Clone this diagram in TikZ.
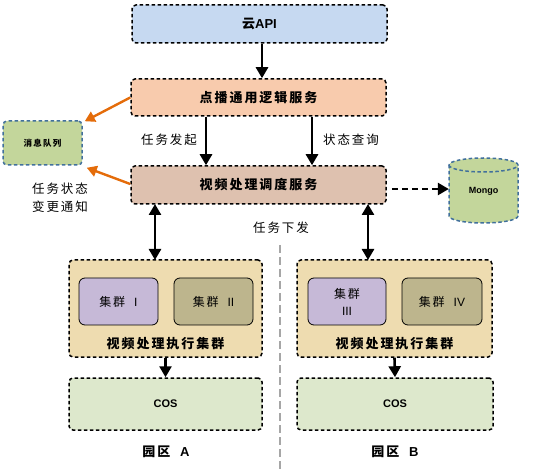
\documentclass[tikz,border=0pt]{standalone}
\usepackage{fontspec}
\setmainfont[LetterSpace=15]{Noto Sans CJK SC}
\newfontfamily\lat{Liberation Sans}
\usetikzlibrary{arrows.meta,shapes.geometric,calc}
\definecolor{apiblue}{HTML}{C6D9F1}
\definecolor{dbpink}{HTML}{F8CBAD}
\definecolor{schedc}{HTML}{DEC1AF}
\definecolor{mqgreen}{HTML}{C3D69B}
\definecolor{contc}{HTML}{EEDCB0}
\definecolor{lavc}{HTML}{C6B9D7}
\definecolor{olivec}{HTML}{BDB58D}
\definecolor{cosc}{HTML}{DDE8CC}
\definecolor{orangec}{HTML}{E46C0A}
\definecolor{bluebd}{HTML}{41709C}
\definecolor{greyc}{HTML}{A6A6A6}
\tikzset{
  dbox/.style={draw=black, line width=1.5pt, dash pattern=on 3.5pt off 2.5pt, rounded corners=4pt, inner sep=0pt, font=\fontsize{13}{15}\selectfont\bfseries},
  gbox/.style={draw=bluebd, line width=1.5pt, dash pattern=on 3.5pt off 2.5pt, rounded corners=4pt, fill=mqgreen, inner sep=0pt},
  ibox/.style={draw=black, line width=0.8pt, rounded corners=6pt, inner sep=0pt, font=\fontsize{12}{15}\selectfont, align=center},
  arr/.style={line width=2.6pt, -{Triangle[length=11pt,width=12pt]}},
  darr/.style={line width=2.6pt, {Triangle[length=11pt,width=12pt]}-{Triangle[length=11pt,width=12pt]}},
  oarr/.style={draw=orangec, line width=2.4pt, -{Triangle[length=10pt,width=11pt]}, orangec},
  lbl/.style={font=\fontsize{12.5}{18}\selectfont, align=center, inner sep=0pt},
}
\begin{document}
\begin{tikzpicture}[x=1pt,y=-1pt]
\useasboundingbox (0,0) rectangle (560,473);
% top boxes
\node[dbox, fill=apiblue, minimum width=255pt, minimum height=38pt] (api) at (259.5,24) {云{\lat API}};
\node[dbox, fill=dbpink, minimum width=255pt, minimum height=37pt] (dianbo) at (258.5,97.5) {点播通用逻辑服务};
\node[dbox, fill=schedc, minimum width=255pt, minimum height=38pt] (sched) at (258.5,185) {视频处理调度服务};
\node[gbox, minimum width=79pt, minimum height=44pt, font=\fontsize{8.5}{10}\selectfont\bfseries] (mq) at (42.5,143) {消息队列};
% mongo cylinder
\draw[draw=bluebd, line width=1.5pt, dash pattern=on 3.5pt off 2.5pt, fill=mqgreen]
  (449,165) -- (449,216) arc[start angle=180, end angle=360, x radius=34.5pt, y radius=7pt]
  -- (518,165) arc[start angle=0, end angle=180, x radius=34.5pt, y radius=7pt] -- cycle;
\draw[draw=bluebd, line width=1.5pt, dash pattern=on 3.5pt off 2.5pt]
  (449,165) arc[start angle=180, end angle=360, x radius=34.5pt, y radius=7pt];
\node[minimum width=69pt, minimum height=65pt, inner sep=0pt, font=\lat\fontsize{9}{10}\selectfont\bfseries] (mongo) at (483.5,191) {Mongo};
% containers
\node[dbox, fill=contc, minimum width=193pt, minimum height=97pt] (ca) at (165.5,308.5) {};
\node[dbox, fill=contc, minimum width=195pt, minimum height=97pt] (cb) at (394.5,308.5) {};
\node[ibox, fill=lavc, minimum width=79pt, minimum height=47pt] (c1) at (118.5,301.5) {集群\ \ {\lat I}};
\node[ibox, fill=olivec, minimum width=79pt, minimum height=47pt] (c2) at (213.5,301.5) {集群\ \ {\lat II}};
\node[ibox, fill=lavc, minimum width=78pt, minimum height=47pt, font=\fontsize{12}{17}\selectfont] (c3) at (347,301.5) {集群\\{\lat III}};
\node[ibox, fill=olivec, minimum width=80pt, minimum height=47pt] (c4) at (442,301.5) {集群\ \ {\lat IV}};
\node[font=\fontsize{13}{15}\selectfont\bfseries, inner sep=0pt] (la) at (165.5,344) {视频处理执行集群};
\node[font=\fontsize{13}{15}\selectfont\bfseries, inner sep=0pt] (lb) at (394.5,344) {视频处理执行集群};
% COS
\node[dbox, fill=cosc, minimum width=193pt, minimum height=52pt, font=\lat\fontsize{11}{13}\selectfont\bfseries] (cosa) at (165.5,404) {COS};
\node[dbox, fill=cosc, minimum width=196pt, minimum height=52pt, font=\lat\fontsize{11}{13}\selectfont\bfseries] (cosb) at (395,404) {COS};
\node[font=\fontsize{13}{15}\selectfont\bfseries, inner sep=0pt] (pa) at (166,452) {园区\ \ {\lat A}};
\node[font=\fontsize{13}{15}\selectfont\bfseries, inner sep=0pt] (pb) at (395,452) {园区\ \ {\lat B}};
% labels
\node[lbl] (l1) at (169,140) {任务发起};
\node[lbl] (l2) at (351,140) {状态查询};
\node[lbl] (l3) at (60,198) {任务状态\\变更通知};
\node[lbl] (l4) at (281,228) {任务下发};
% divider
\coordinate (d1) at (280,245);
\coordinate (d2) at (280,473);
\draw[greyc, line width=2.2pt, dash pattern=on 8pt off 4pt] (d1) -- (d2);
% arrows
\draw[arr] ([xshift=2.5pt]api.south) -- ([xshift=3.5pt]dianbo.north);
\draw[arr] ([xshift=-52.5pt]dianbo.south) -- ([xshift=-52.5pt]sched.north);
\draw[arr] ([xshift=53.5pt]dianbo.south) -- ([xshift=53.5pt]sched.north);
\draw[oarr] (dianbo.west) -- ([xshift=2pt,yshift=-1pt]mq.north east);
\draw[oarr] ([yshift=1pt]sched.west) -- ([xshift=4pt,yshift=-2pt]mq.south east);
\coordinate (ms) at ($(sched.east |- 0,189)+(5,0)$);
\coordinate (me) at (mongo.west |- 0,189);
\draw[line width=2.6pt, dash pattern=on 6pt off 4pt, -{Triangle[length=11pt,width=12pt]}] (ms) -- (me);
\draw[darr] (155,204) -- (155,260);
\draw[darr] (368,204) -- (368,260);
\draw[arr] (ca.south) -- (cosa.north);
\draw[arr] (cb.south) -- (cosb.north);
\end{tikzpicture}
\end{document}
